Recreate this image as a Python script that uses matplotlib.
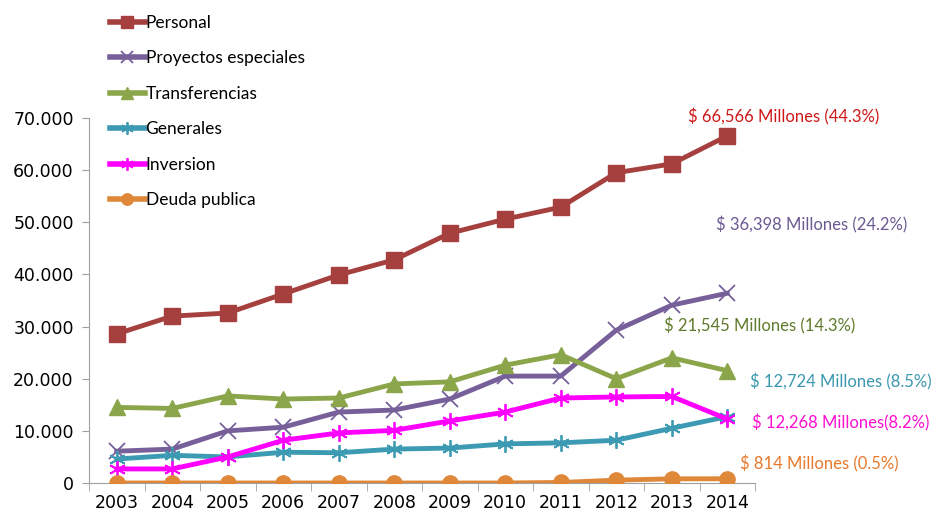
import matplotlib
matplotlib.use("Agg")
import matplotlib.pyplot as plt
from matplotlib.lines import Line2D

years = ["2003", "2004", "2005", "2006", "2007", "2008", "2009", "2010", "2011", "2012", "2013", "2014"]
personal = [28600, 32000, 32600, 36250, 39900, 42800, 47900, 50600, 52900, 59500, 61200, 66566]
proyectos = [6100, 6500, 10000, 10700, 13600, 14000, 16100, 20500, 20500, 29300, 34100, 36398]
transferencias = [14500, 14300, 16700, 16100, 16300, 19000, 19400, 22600, 24600, 20000, 24000, 21545]
generales = [4600, 5300, 5000, 5900, 5800, 6500, 6700, 7500, 7700, 8200, 10500, 12724]
inversion = [2700, 2700, 5000, 8200, 9600, 10100, 11900, 13600, 16300, 16500, 16600, 12268]
deuda = [0, 0, 0, 0, 0, 0, 0, 0, 100, 550, 800, 814]

labels = ["Personal", "Proyectos especiales", "Transferencias", "Generales", "Inversion", "Deuda publica"]
annotations = ["$ 66,566 Millones (44.3%)", "$ 36,398 Millones (24.2%)", "$ 21,545 Millones (14.3%)",
               "$ 12,724 Millones (8.5%)", "$ 12,268 Millones(8.2%)", "$ 814 Millones (0.5%)"]
yticks = [0, 10000, 20000, 30000, 40000, 50000, 60000, 70000]
ytick_labels = ["0", "10.000", "20.000", "30.000", "40.000", "50.000", "60.000", "70.000"]

W, H = 933, 517
fig = plt.figure(figsize=(W / 100, H / 100), dpi=100)
ax = fig.add_axes([89 / W, 1 - 483 / H, (755 - 89) / W, (483 - 118) / H])

x = list(range(len(years)))
series = [personal, proyectos, transferencias, generales, inversion, deuda]
colors = ["#A5403E", "#77609A", "#8BA64A", "#3C9AB2", "#FF00FF", "#E0883A"]
markers = ["s", "x", "^", (6, 2, 0), (6, 2, 0), "o"]
msizes = [12, 11, 12, 12, 12, 11]
mews = [1, 1.3, 1, 1.3, 1.3, 1]

handles = []
for s, c, m, ms, mew, lab in zip(series, colors, markers, msizes, mews, labels):
    ax.plot(x, s, color=c, lw=3.5, marker=m, markersize=ms, markeredgewidth=mew,
            markeredgecolor=c, markerfacecolor=c, zorder=3)
    handles.append(Line2D([], [], color=c, lw=4, marker=m, markersize=ms * 0.75,
                          markeredgewidth=mew, markeredgecolor=c, markerfacecolor=c, label=lab))

ax.set_xlim(-0.5, len(years) - 0.5)
ax.set_ylim(0, 70000)
ax.set_yticks(yticks)
ax.set_yticklabels(ytick_labels)
ax.set_xticks(x)
ax.set_xticklabels(years)
ax.set_xticks([i - 0.5 for i in range(len(years) + 1)], minor=True)
ax.tick_params(axis="x", which="major", length=0, pad=8, labelsize=12.5)
ax.tick_params(axis="x", which="minor", length=6, color="#A0A0A0", direction="out")
ax.tick_params(axis="y", length=5, color="#A0A0A0", labelsize=12.5, pad=6)
for sp in ["top", "right"]:
    ax.spines[sp].set_visible(False)
for sp in ["left", "bottom"]:
    ax.spines[sp].set_color("#A0A0A0")
ax.patch.set_alpha(0)

leg = fig.legend(handles=handles, loc="upper left", bbox_to_anchor=(103 / W, 1 - 8 / H),
                 frameon=False, labelspacing=1.12, handlelength=2.0,
                 handletextpad=0.05, borderaxespad=0,
                 prop={"family": "Lato", "size": 12.5})

ann_pos = [(688, 117), (716, 225), (664, 326), (750, 382), (752, 423), (740, 464)]
ann_colors = ["#D01818", "#6A5A92", "#5E7A2C", "#3A98B0", "#FF10D0", "#E8782A"]
for (px, py), t, c in zip(ann_pos, annotations, ann_colors):
    fig.text(px / W, 1 - py / H, t, color=c, fontsize=12, va="center", ha="left", family="Lato")

fig.savefig("out.png", dpi=100)
